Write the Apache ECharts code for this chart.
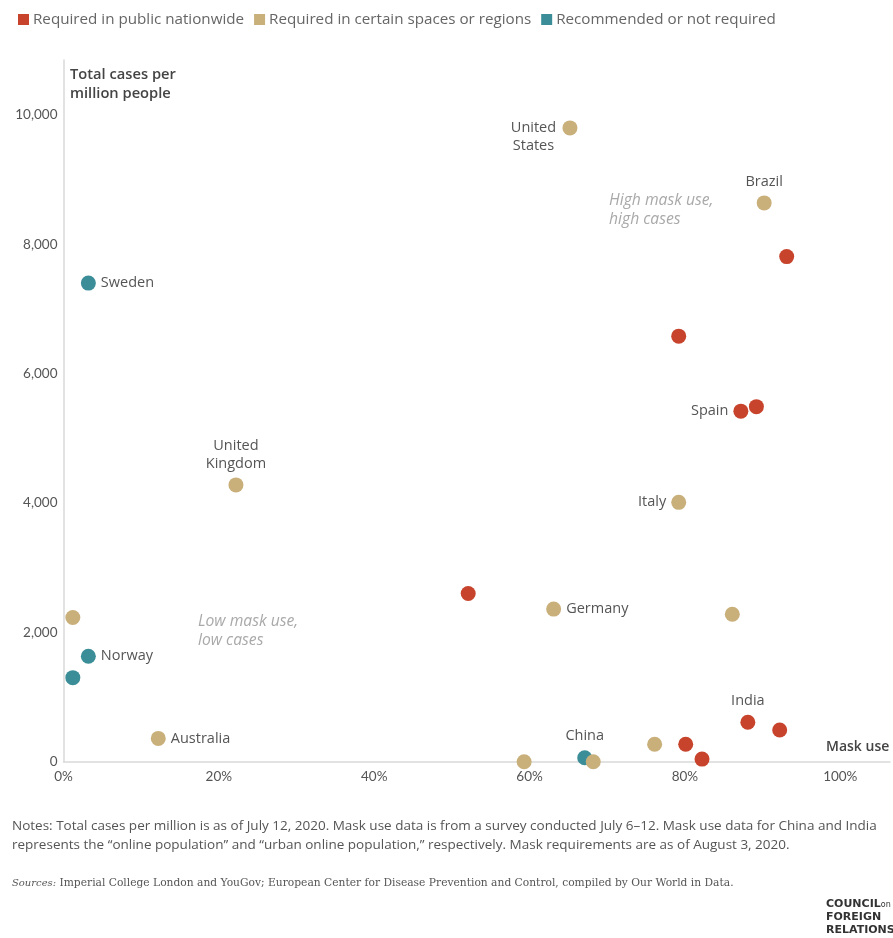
<!DOCTYPE html>
<html>
<head>
<meta charset="utf-8">
<title>Mask use and COVID-19 cases</title>
<script src="https://cdn.jsdelivr.net/npm/echarts@6/dist/echarts.min.js"></script>
<style>
  html, body { margin: 0; padding: 0; background: #ffffff; }
  #chart { width: 893px; height: 938px; }
</style>
</head>
<body>
<div id="chart"></div>
<script>
// Mask requirement groups
const groupNames = ['Required in public nationwide', 'Required in certain spaces or regions', 'Recommended or not required'];
const groupColors = ['#c7432c', '#c9b07b', '#3b8e98'];

// Required in public nationwide
const nationwideNames   = ['', '', 'Spain', '', '', '', '', 'India', ''];
const nationwideMaskUse = [93.1, 79.2, 87.2, 89.2, 52.1, 80.1, 82.2, 88.1, 92.2];
const nationwideCases   = [7810, 6580, 5420, 5490, 2600, 270, 40, 610, 490];

// Required in certain spaces or regions
const regionalNames   = ['United\nStates', 'Brazil', 'Italy', 'United\nKingdom', 'Germany', '', '', 'Australia', '', '', ''];
const regionalMaskUse = [65.2, 90.2, 79.2, 22.2, 63.1, 86.1, 1.2, 12.2, 59.3, 68.2, 76.1];
const regionalCases   = [9800, 8640, 4010, 4280, 2360, 2280, 2230, 360, 0, 0, 270];

// Recommended or not required
const recommendedNames   = ['Sweden', 'Norway', '', 'China'];
const recommendedMaskUse = [3.2, 3.2, 1.2, 67.1];
const recommendedCases   = [7400, 1630, 1300, 60];

// Axis ticks
const xTicks = [0, 20, 40, 60, 80, 100];
const yTicks = [0, 2000, 4000, 6000, 8000, 10000];

// Where each country name sits relative to its dot
const labelSide = {
  'United\nStates': 'left', 'Brazil': 'top', 'Italy': 'left', 'United\nKingdom': 'top',
  'Germany': 'right', 'Australia': 'right', 'Spain': 'left', 'India': 'top',
  'Sweden': 'right', 'Norway': 'right', 'China': 'top'
};

const FONT = 'Lato, "Open Sans", sans-serif';
const WIDE = '"Open Sans", Lato, sans-serif';

function buildPoints(names, xs, ys) {
  return names.map((n, i) => {
    const p = { value: [xs[i], ys[i]], name: n };
    if (n) {
      const side = labelSide[n] || 'right';
      const lbl = { show: true, position: side, distance: 5, formatter: n };
      if (side === 'left' && n.indexOf('\n') >= 0) {
        // two-line name beside the dot, centred lines, first line level with the dot
        lbl.align = 'center';
        lbl.offset = [-24, 9];
      }
      if (side === 'top') lbl.align = 'center';
      p.label = lbl;
    }
    return p;
  });
}

function makeSeries(idx, names, xs, ys) {
  return {
    name: groupNames[idx],
    type: 'scatter',
    symbol: 'circle',
    symbolSize: 15,
    itemStyle: { color: groupColors[idx], opacity: 1 },
    label: { show: false, color: '#555', fontSize: 14.5, fontFamily: WIDE, lineHeight: 18 },
    data: buildPoints(names, xs, ys)
  };
}

const chart = echarts.init(document.getElementById('chart'), null, { renderer: 'canvas' });

chart.setOption({
  backgroundColor: '#ffffff',
  animation: false,
  legend: {
    left: 13, top: 7,
    icon: 'rect', itemWidth: 11, itemHeight: 11, itemGap: 10,
    textStyle: { color: '#666', fontSize: 15.2, fontFamily: WIDE, padding: [0, 0, 0, -1] },
    data: groupNames
  },
  grid: { left: 63.5, right: 0, top: 60, bottom: 176.3, containLabel: false },
  xAxis: {
    type: 'value', min: 0, max: 106.4, interval: 20,
    axisLine: { show: true, lineStyle: { color: '#d9d9d9', width: 1.5 } },
    axisTick: { show: false },
    splitLine: { show: false },
    axisLabel: {
      color: '#555', fontSize: 13.5, fontFamily: FONT, margin: 8,
      formatter: v => xTicks.indexOf(v) >= 0 ? v + '%' : ''
    }
  },
  yAxis: {
    type: 'value', min: 0, max: 10850, interval: 2000,
    axisLine: { show: true, lineStyle: { color: '#d9d9d9', width: 1.5 } },
    axisTick: { show: false },
    splitLine: { show: false },
    axisLabel: {
      color: '#555', fontSize: 13.5, fontFamily: FONT, margin: 6,
      formatter: v => yTicks.indexOf(v) >= 0 ? v.toLocaleString('en-US') : ''
    }
  },
  graphic: [
    { type: 'text', left: 70, top: 65, style: { text: 'Total cases per\nmillion people', fill: '#444', font: '600 14.7px ' + WIDE, lineHeight: 19 } },
    { type: 'text', left: 826, top: 740, style: { text: 'Mask use', fill: '#444', font: '600 14px ' + WIDE } },
    { type: 'text', left: 609, top: 191, style: { text: 'High mask use,\nhigh cases', fill: '#a9a9a9', font: 'italic 15.7px ' + WIDE, lineHeight: 19 } },
    { type: 'text', left: 198, top: 612, style: { text: 'Low mask use,\nlow cases', fill: '#a9a9a9', font: 'italic 15.7px ' + WIDE, lineHeight: 19 } },
    { type: 'text', left: 12, top: 817, style: { text: 'Notes: Total cases per million is as of July 12, 2020. Mask use data is from a survey conducted July 6\u201312. Mask use data for China and India\nrepresents the \u201conline population\u201d and \u201curban online population,\u201d respectively. Mask requirements are as of August 3, 2020.', fill: '#555', font: '13.5px ' + WIDE, lineHeight: 19 } },
    { type: 'text', left: 12, top: 878, style: {
        text: '{i|Sources:} Imperial College London and YouGov; European Center for Disease Prevention and Control, compiled by Our World in Data.',
        fill: '#555', font: '10.7px "DejaVu Serif", serif',
        rich: { i: { fontStyle: 'italic', fontFamily: '"DejaVu Serif", serif', fontSize: 10, fill: '#555' } }
      } },
    { type: 'text', left: 826, top: 898, style: {
        text: 'COUNCIL{s|on}\nFOREIGN\nRELATIONS', fill: '#333', font: 'bold 11px "DejaVu Sans", sans-serif', lineHeight: 13,
        rich: { s: { fontSize: 8, fontFamily: '"DejaVu Sans", sans-serif', fill: '#333' } }
      } }
  ],
  series: [
    makeSeries(0, nationwideNames, nationwideMaskUse, nationwideCases),
    makeSeries(2, recommendedNames, recommendedMaskUse, recommendedCases),
    makeSeries(1, regionalNames, regionalMaskUse, regionalCases)
  ]
});
</script>
</body>
</html>
